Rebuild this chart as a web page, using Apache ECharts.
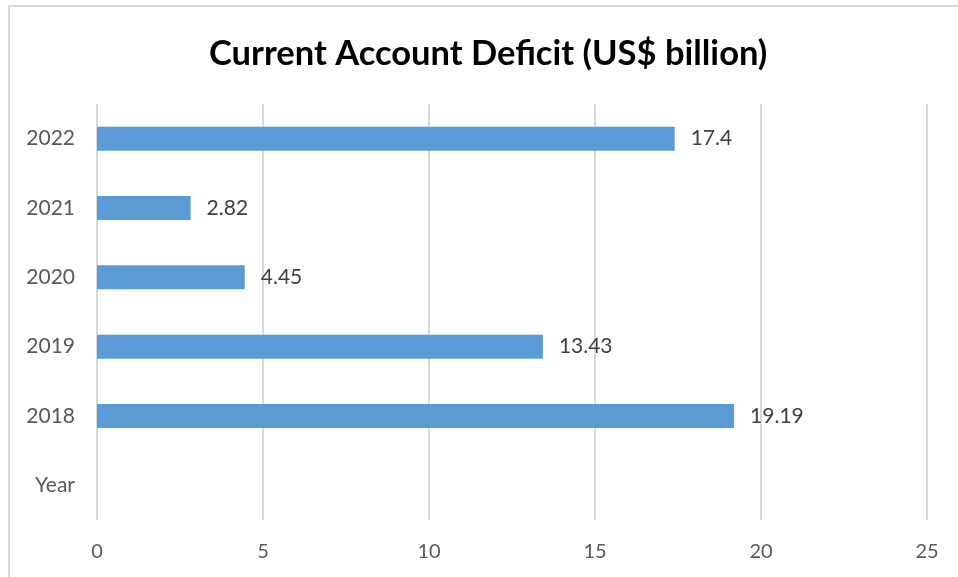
<!DOCTYPE html>
<html>
<head>
<meta charset="utf-8">
<script src="https://cdn.jsdelivr.net/npm/echarts@6/dist/echarts.min.js"></script>
<style>
  html, body { margin: 0; padding: 0; background: #fff; }
  #wrap { position: relative; width: 958px; height: 577px; overflow: hidden; }
  #chart { width: 958px; height: 577px; }
  #frame { position: absolute; left: 8px; top: 5px; width: 980px; height: 600px;
           border: 2px solid #d9d9d9; pointer-events: none; box-sizing: border-box; }
</style>
</head>
<body>
<div id="wrap">
  <div id="chart"></div>
  <div id="frame"></div>
</div>
<script>
// Category labels, bottom to top
const categories = ['Year', '2018', '2019', '2020', '2021', '2022'];
// Current account deficit, US$ billion ("Year" row carries no bar)
const deficit = [null, 19.19, 13.43, 4.45, 2.82, 17.4];
const titleText = 'Current Account Deficit (US$ billion)';
const xMin = 0, xMax = 25, xStep = 5;

const fontFamily = 'Lato, "Open Sans", sans-serif';
const chart = echarts.init(document.getElementById('chart'), null, { renderer: 'canvas' });
chart.setOption({
  animation: false,
  backgroundColor: '#ffffff',
  title: {
    text: titleText,
    left: 204,
    top: 31,
    textStyle: { fontFamily, fontWeight: 'bold', fontSize: 34.5, color: '#000000' }
  },
  grid: { left: 97, right: 31, top: 104, bottom: 57, containLabel: false },
  xAxis: {
    type: 'value',
    min: xMin, max: xMax, interval: xStep,
    axisLine: { show: false },
    axisTick: { show: false },
    axisLabel: { fontFamily, fontSize: 20, color: '#595959', margin: 22 },
    splitLine: { show: true, lineStyle: { color: '#d9d9d9', width: 2 } }
  },
  yAxis: {
    type: 'category',
    data: categories,
    axisLine: { show: false },
    axisTick: { show: false },
    axisLabel: { fontFamily, fontSize: 21, color: '#595959', margin: 22 }
  },
  series: [{
    type: 'bar',
    data: deficit,
    barWidth: 24,
    itemStyle: { color: '#5b9bd5' },
    label: {
      show: true,
      position: 'right',
      distance: 16,
      fontFamily, fontSize: 21, color: '#404040'
    }
  }]
});
</script>
</body>
</html>
